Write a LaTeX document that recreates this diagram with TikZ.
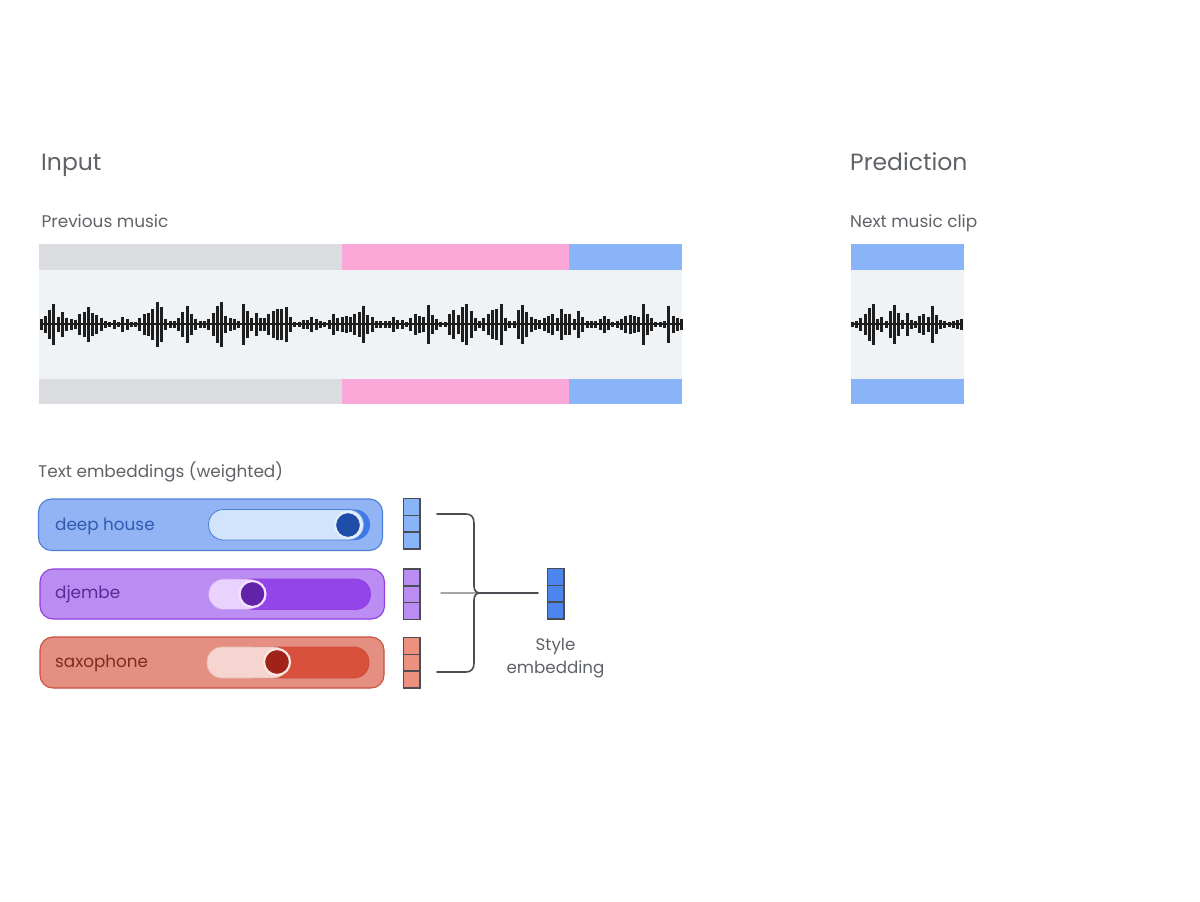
\documentclass[tikz,border=0pt]{standalone}
\usepackage{fontspec}
\setmainfont{Poppins}
\newfontfamily\pillfont{Poppins}
\definecolor{txt}{HTML}{5F6368}
\definecolor{trackgrey}{HTML}{DADCE0}
\definecolor{trackpink}{HTML}{FBA8D9}
\definecolor{trackblue}{HTML}{8AB4F8}
\definecolor{panel}{HTML}{F0F3F5}
\definecolor{wave}{HTML}{1E1E1E}
\definecolor{conn}{HTML}{4A4D52}
\definecolor{bluefill}{HTML}{92B4F4}
\definecolor{blueline}{HTML}{4A7FD8}
\definecolor{bluetxt}{HTML}{2F5CB0}
\definecolor{bluelight}{HTML}{D2E3FC}
\definecolor{bluedark}{HTML}{3F78E8}
\definecolor{blueknob}{HTML}{1F4EA8}
\definecolor{purpfill}{HTML}{BB8CF2}
\definecolor{purpline}{HTML}{9040E0}
\definecolor{purptxt}{HTML}{5A2A9A}
\definecolor{purplight}{HTML}{E9D2FD}
\definecolor{purpdark}{HTML}{9345EA}
\definecolor{purpknob}{HTML}{6223A8}
\definecolor{redfill}{HTML}{E58F82}
\definecolor{redline}{HTML}{C94F3E}
\definecolor{redtxt}{HTML}{7E2A22}
\definecolor{redlight}{HTML}{F6D5D0}
\definecolor{reddark}{HTML}{D9503C}
\definecolor{redknob}{HTML}{A0231A}
\definecolor{embblue}{HTML}{8AB4F8}
\definecolor{embpurp}{HTML}{BB8CF2}
\definecolor{embred}{HTML}{EE9080}
\definecolor{embstyle}{HTML}{4D85EE}
\usetikzlibrary{calc}
\tikzset{
  x=1pt,y=-1pt,
  title/.style={anchor=base west,inner sep=0pt,text=txt,font=\fontsize{23.5}{26}\selectfont},
  sublabel/.style={anchor=base west,inner sep=0pt,text=txt,font=\fontsize{16.9}{19}\selectfont},
  pilltext/.style={anchor=base west,inner sep=0pt,font=\pillfont\fontsize{16.8}{19}\selectfont},
  track/.style={fill=#1,draw=none},
  card/.style={rounded corners=13pt,line width=1.1pt},
  pill/.style={rounded corners=15pt,line width=0.8pt},
  cell/.style={draw=conn,line width=1.5pt},
  conline/.style={draw=conn,line width=1.6pt,line cap=round},
  bar/.style={draw=wave,line width=3pt},
  knob/.style={circle,inner sep=0pt,outer sep=0pt,minimum size=26pt,line width=2.2pt,fill=#1},
}
\newcommand{\embcol}[4]{% name, x, y top, colour
  \node[cell,fill=#4,inner sep=0pt,outer sep=0pt,minimum width=16.5pt,minimum height=50.5pt,anchor=north west] (#1) at (#2,#3) {};
  \draw[cell] ($(#1.north west)+(0,16.8)$) -- ($(#1.north east)+(0,16.8)$);
  \draw[cell] ($(#1.north west)+(0,33.7)$) -- ($(#1.north east)+(0,33.7)$);
}
\begin{document}
\begin{tikzpicture}
\useasboundingbox (0,0) rectangle (1200,902);
\fill[white] (0,0) rectangle (1200,902);

\node[title] (inp) at (41,170) {Input};
\node[title] (pred) at (850,170) {Prediction};
\node[sublabel] (prev) at (41.5,227) {Previous music};
\node[sublabel] (next) at (850,227) {Next music clip};
\node[sublabel] (textemb) at (38,477) {Text embeddings (weighted)};

% tracks
\fill[panel] (39,270) rectangle (682,379);
\fill[track=trackgrey] (39,244) rectangle (342,270);
\fill[track=trackpink] (342,244) rectangle (569,270);
\fill[track=trackblue] (569,244) rectangle (682,270);
\fill[track=trackgrey] (39,379) rectangle (342,404);
\fill[track=trackpink] (342,379) rectangle (569,404);
\fill[track=trackblue] (569,379) rectangle (682,404);
\fill[panel] (851,270) rectangle (964,379);
\fill[track=trackblue] (851,244) rectangle (964,270);
\fill[track=trackblue] (851,379) rectangle (964,404);

% waveform
\draw[wave,line width=2.5pt] (41,324) -- (681,324);
\foreach \h [count=\i from 0] in {5,8,14,20,7,12,6,5,4,10,12,17,11,9,6,3,2,4,2,7,5,2,2,6,10,11,15,22,17,5,3,3,6,12,18,10,5,3,3,5,11,18,22,8,6,5,3,20,13,6,11,6,6,10,13,15,15,17,7,2,2,4,4,7,5,3,2,4,10,6,7,8,7,10,12,18,9,7,3,3,3,3,7,4,4,2,6,10,8,7,19,9,5,2,2,10,14,9,17,20,13,6,3,6,10,14,15,20,6,3,3,14,19,12,7,5,4,6,8,10,6,15,10,10,5,13,7,3,3,3,5,8,5,2,3,5,8,9,8,7,20,10,6,2,2,3,18,8,6,5}
  \draw[bar] ({41+4.3*\i},{324-\h-0.5}) -- ({41+4.3*\i},{324+\h+0.5});
\draw[wave,line width=2.5pt] (852,324) -- (963,324);
\foreach \h [count=\i from 0] in {2,3,6,10,16,20,5,7,3,13,19,11,4,11,4,3,8,10,7,18,9,4,3,2,3,4,5}
  \draw[bar] ({852.5+4.2*\i},{324-\h-0.5}) -- ({852.5+4.2*\i},{324+\h+0.5});

% sliders: deep house
\draw[card,fill=bluefill,draw=blueline] (38.5,499) rectangle (382.5,550.5);
\node[pilltext,text=bluetxt] (l1) at (55,530) {deep house};
\fill[bluedark,pill] (320,509.5) rectangle (370,540);
\draw[fill=bluelight,draw=blueline,pill] (208.5,509.5) rectangle (364,540);
\node[knob=blueknob,draw=bluelight!60!white] (k1) at (348,525) {};

% djembe
\draw[card,fill=purpfill,draw=purpline] (40,569) rectangle (384.5,619);
\node[pilltext,text=purptxt] (l2) at (55,598.5) {djembe};
\draw[fill=purpdark,draw=purpline,pill] (225,579) rectangle (370.5,609.5);
\draw[fill=purplight,draw=purpline!50!white,pill] (208.5,579) rectangle (262,609.5);
\node[knob=purpknob,draw=purplight!60!white] (k2) at (252.5,594) {};

% saxophone
\draw[card,fill=redfill,draw=redline] (40,637) rectangle (384,688);
\node[pilltext,text=redtxt] (l3) at (55,667.5) {saxophone};
\draw[fill=reddark,draw=redline,pill] (240,647) rectangle (369,678);
\draw[fill=redlight,draw=redline!40!white,pill] (207,647) rectangle (288,678);
\node[knob=redknob,draw=redlight!60!white] (k3) at (277,662) {};

% embedding columns
\embcol{e1}{403.5}{498.5}{embblue}
\embcol{e2}{403.5}{569}{embpurp}
\embcol{e3}{403.5}{637.5}{embred}
\embcol{es}{547.5}{568.5}{embstyle}

% connectors
\coordinate (s1) at (437,514);
\coordinate (s2) at (441,593);
\coordinate (s3) at (437,672);
\coordinate (j) at (480,593);
\coordinate (s4) at (538,593);
\draw[line width=1.6pt,draw=black!35,line cap=round] (s2) -- (j);
\draw[conline] (s1) -- (466,514) .. controls (471,514) and (474,517) .. (474,523) -- (474,586) .. controls (474,590) and (476,593) .. (j);
\draw[conline] (s3) -- (466,672) .. controls (471,672) and (474,669) .. (474,663) -- (474,600) .. controls (474,596) and (476,593) .. (j);
\draw[conline] (j) -- (s4);

\node[anchor=base,inner sep=0pt,text=txt,font=\fontsize{16.7}{19}\selectfont] (st1) at (555.5,650) {Style};
\node[anchor=base,inner sep=0pt,text=txt,font=\fontsize{16.7}{19}\selectfont] (st2) at (555.5,673) {embedding};
\end{tikzpicture}
\end{document}
